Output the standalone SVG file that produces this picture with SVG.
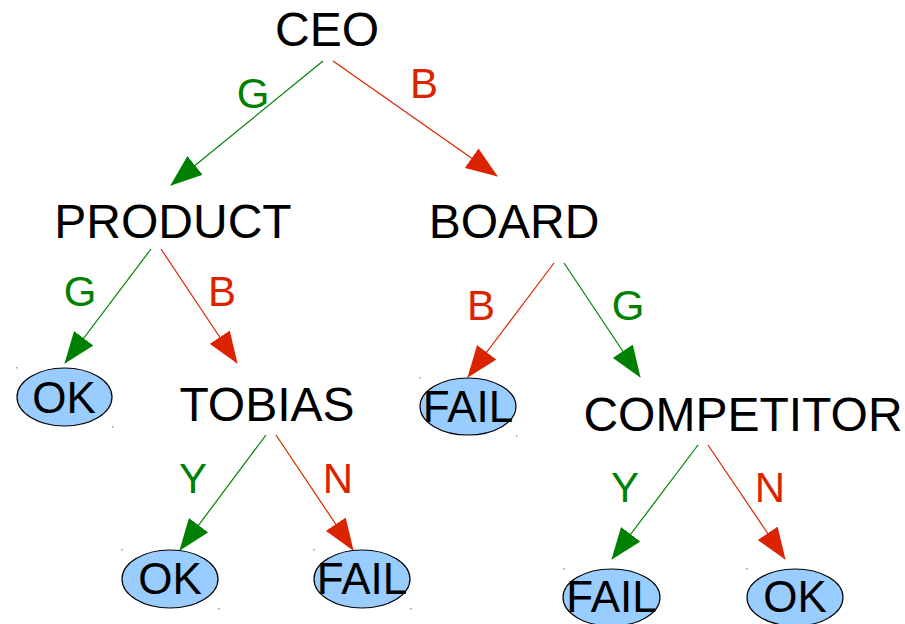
<svg xmlns="http://www.w3.org/2000/svg" width="905" height="624" viewBox="0 0 905 624">
<style>
text{font-family:"Liberation Sans",Arial,sans-serif;text-anchor:middle}
.n{font-size:48px;fill:#000}
.e{font-size:44px;fill:#000}
.l{font-size:42px}
.lg{fill:#008000}
.lr{fill:#dc2300}
.g{stroke:#008000;stroke-width:1.2;fill:none}
.r{stroke:#dc2300;stroke-width:1.2;fill:none}
ellipse{fill:#99ccff;stroke:#000;stroke-width:1.2}
.d{fill:#999}
</style>
<defs>
<marker id="ag" viewBox="0 0 32 24" markerWidth="32" markerHeight="24" refX="31" refY="12" orient="auto" markerUnits="userSpaceOnUse"><path d="M0,0 L32,12 L0,24 z" fill="#008000"/></marker>
<marker id="ar" viewBox="0 0 32 24" markerWidth="32" markerHeight="24" refX="31" refY="12" orient="auto" markerUnits="userSpaceOnUse"><path d="M0,0 L32,12 L0,24 z" fill="#dc2300"/></marker>
</defs>
<g id="connectors">
<line class="g" x1="323" y1="61" x2="171" y2="185" marker-end="url(#ag)"/>
<line class="r" x1="333" y1="61" x2="497" y2="176" marker-end="url(#ar)"/>
<line class="g" x1="151" y1="249" x2="65" y2="363" marker-end="url(#ag)"/>
<line class="r" x1="161" y1="249" x2="237" y2="363" marker-end="url(#ar)"/>
<line class="r" x1="554" y1="263" x2="468" y2="377" marker-end="url(#ar)"/>
<line class="g" x1="564" y1="263" x2="640" y2="377" marker-end="url(#ag)"/>
<line class="g" x1="266" y1="435" x2="180" y2="550" marker-end="url(#ag)"/>
<line class="r" x1="276" y1="435" x2="353" y2="550" marker-end="url(#ar)"/>
<line class="g" x1="698" y1="445" x2="612" y2="559" marker-end="url(#ag)"/>
<line class="r" x1="708" y1="445" x2="785" y2="559" marker-end="url(#ar)"/>
<text class="l lg" x="253" y="108">G</text>
<text class="l lr" x="424" y="98">B</text>
<text class="l lg" x="80" y="306">G</text>
<text class="l lr" x="222" y="306">B</text>
<text class="l lr" x="481" y="320">B</text>
<text class="l lg" x="628" y="320">G</text>
<text class="l lg" x="193" y="493">Y</text>
<text class="l lr" x="338" y="493">N</text>
<text class="l lg" x="625" y="502">Y</text>
<text class="l lr" x="770" y="502">N</text>
</g>
<g id="ceo"><text class="n" x="327" y="46">CEO</text></g>
<g id="product"><text class="n" x="173" y="238">PRODUCT</text></g>
<g id="board"><text class="n" x="514" y="238">BOARD</text></g>
<g id="tobias"><text class="n" x="267" y="421">TOBIAS</text></g>
<g id="competitor"><text class="n" x="743" y="431">COMPETITOR</text></g>
<g id="ok1"><ellipse cx="64.5" cy="397" rx="47.5" ry="29"/><text class="e" x="64" y="413">OK</text><rect class="d" x="16" y="367" width="1.5" height="1.5"/><rect class="d" x="112" y="426" width="1.5" height="1.5"/></g>
<g id="fail1"><ellipse cx="468" cy="406.5" rx="48" ry="28.5"/><text class="e" x="468" y="422">FAIL</text><rect class="d" x="419" y="377" width="1.5" height="1.5"/><rect class="d" x="516" y="435" width="1.5" height="1.5"/></g>
<g id="ok2"><ellipse cx="170" cy="579" rx="48" ry="29"/><text class="e" x="170" y="594">OK</text><rect class="d" x="121" y="549" width="1.5" height="1.5"/><rect class="d" x="218" y="608" width="1.5" height="1.5"/></g>
<g id="fail2"><ellipse cx="362" cy="579" rx="48" ry="29"/><text class="e" x="362" y="594">FAIL</text><rect class="d" x="313" y="549" width="1.5" height="1.5"/><rect class="d" x="410" y="608" width="1.5" height="1.5"/></g>
<g id="fail3"><ellipse cx="611.5" cy="597.5" rx="48.5" ry="28.5"/><text class="e" x="611.5" y="612">FAIL</text><rect class="d" x="563" y="568" width="1.5" height="1.5"/></g>
<g id="ok3"><ellipse cx="795" cy="597.5" rx="48" ry="28.5"/><text class="e" x="795" y="612">OK</text><rect class="d" x="746" y="568" width="1.5" height="1.5"/></g>
</svg>
